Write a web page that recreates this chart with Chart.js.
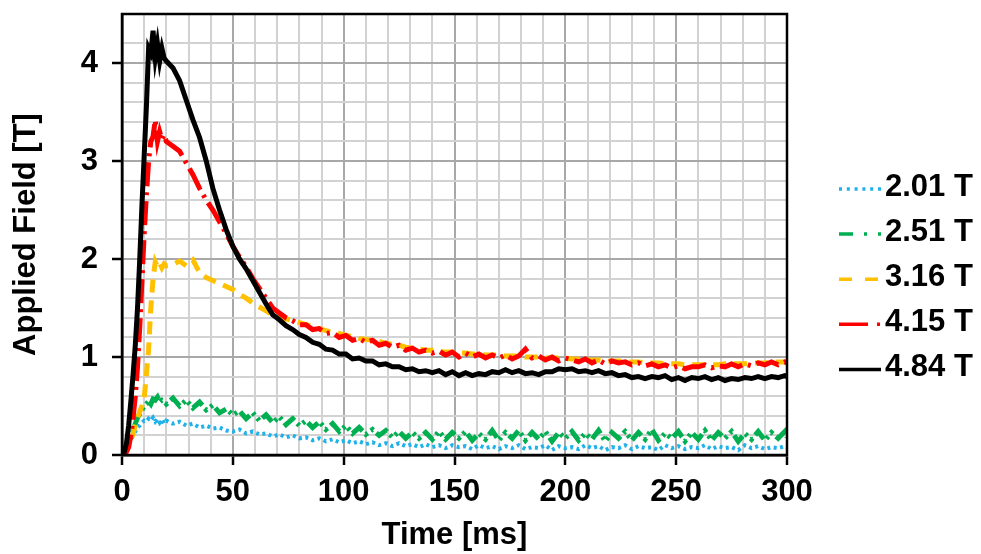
<!DOCTYPE html>
<html>
<head>
<meta charset="utf-8">
<script src="https://cdn.jsdelivr.net/npm/chart.js@4.4.1/dist/chart.umd.min.js"></script>
<style>
  html, body { margin: 0; padding: 0; background: #ffffff; }
  #wrap { width: 981px; height: 554px; }
</style>
</head>
<body>
<div id="wrap"><canvas id="c" width="981" height="554"></canvas></div>
<script>
// ---- Data ----
const seriesLabels = ['2.01 T', '2.51 T', '3.16 T', '4.15 T', '4.84 T'];

const timeMs = [0,1,2,3,4,5,6,7,8,9,10,11,12,13,14,15,16,17,18,19,20,
  23,26,29,32,35,38,41,44,47,50,
  53,56,59,62,65,68,71,74,77,80,
  83,86,89,92,95,98,101,104,107,110,
  113,116,119,122,125,128,131,134,137,140,
  143,146,149,152,155,158,161,164,167,170,
  173,176,179,182,185,188,191,194,197,200,
  203,206,209,212,215,218,221,224,227,230,
  233,236,239,242,245,248,251,254,257,260,
  263,266,269,272,275,278,281,284,287,290,
  293,296,299,300];

const field201 = [0,0.02,0.05,0.1,0.15,0.2,0.24,0.28,0.3,0.33,0.35,0.34,0.37,0.35,0.38,0.34,0.37,0.33,0.36,0.32,0.35,
  0.32,0.34,0.3,0.32,0.28,0.3,0.27,0.28,0.25,0.24,
  0.26,0.22,0.24,0.21,0.22,0.19,0.21,0.18,0.2,0.17,
  0.18,0.15,0.17,0.14,0.16,0.13,0.15,0.12,0.14,0.11,
  0.13,0.1,0.12,0.09,0.12,0.09,0.11,0.08,0.11,0.08,
  0.1,0.07,0.1,0.08,0.09,0.06,0.1,0.07,0.09,0.06,
  0.09,0.07,0.1,0.06,0.08,0.07,0.1,0.05,0.09,0.07,
  0.08,0.06,0.1,0.07,0.09,0.05,0.08,0.07,0.1,0.06,
  0.09,0.07,0.08,0.05,0.1,0.07,0.09,0.06,0.08,0.07,
  0.1,0.06,0.09,0.07,0.08,0.05,0.1,0.07,0.09,0.06,
  0.08,0.07,0.09,0.08];

const field251 = [0,0.02,0.06,0.12,0.18,0.25,0.32,0.38,0.42,0.46,0.5,0.52,0.55,0.52,0.57,0.56,0.59,0.54,0.56,0.55,0.52,
  0.58,0.5,0.56,0.48,0.54,0.46,0.51,0.43,0.47,0.41,
  0.45,0.37,0.43,0.35,0.41,0.33,0.39,0.31,0.37,0.3,
  0.35,0.28,0.34,0.26,0.32,0.24,0.3,0.22,0.28,0.21,
  0.26,0.2,0.25,0.18,0.24,0.17,0.23,0.17,0.23,0.16,
  0.24,0.16,0.23,0.17,0.24,0.15,0.22,0.16,0.25,0.15,
  0.23,0.17,0.25,0.15,0.23,0.16,0.24,0.14,0.23,0.17,
  0.24,0.15,0.22,0.16,0.25,0.14,0.23,0.17,0.24,0.15,
  0.23,0.16,0.26,0.15,0.22,0.17,0.24,0.14,0.23,0.16,
  0.25,0.15,0.23,0.17,0.24,0.14,0.22,0.16,0.24,0.15,
  0.23,0.17,0.24,0.18];

const field316 = [0,0.01,0.04,0.09,0.15,0.22,0.3,0.38,0.44,0.5,0.58,0.82,1.08,1.5,1.8,1.97,1.92,1.96,1.91,1.95,1.93,
  1.94,1.98,1.93,1.99,1.86,1.81,1.78,1.75,1.72,1.69,
  1.64,1.6,1.55,1.51,1.47,1.43,1.41,1.39,1.37,1.35,
  1.33,1.31,1.29,1.27,1.25,1.24,1.22,1.21,1.19,1.18,
  1.17,1.16,1.14,1.13,1.12,1.1,1.09,1.08,1.07,1.07,
  1.06,1.05,1.05,1.04,1.04,1.03,1.03,1.02,1.02,1.02,
  1.01,1.01,1.01,1.0,1.0,1.0,0.99,0.99,0.99,0.99,
  0.98,0.98,0.97,0.97,0.97,0.96,0.96,0.96,0.95,0.95,
  0.95,0.94,0.94,0.94,0.93,0.93,0.93,0.92,0.92,0.92,
  0.92,0.92,0.92,0.93,0.93,0.93,0.93,0.94,0.94,0.94,
  0.95,0.95,0.95,0.95];

const field415 = [0,0,0.03,0.08,0.2,0.38,0.6,0.9,1.3,1.78,2.25,2.65,3.0,3.2,3.25,3.42,3.2,3.3,3.22,3.27,3.2,
  3.15,3.1,2.98,2.86,2.72,2.6,2.5,2.38,2.26,2.13,
  2.02,1.92,1.8,1.7,1.6,1.5,1.45,1.4,1.37,1.33,
  1.33,1.28,1.29,1.24,1.25,1.2,1.22,1.17,1.19,1.15,
  1.17,1.12,1.14,1.1,1.12,1.07,1.09,1.05,1.07,1.04,
  1.06,1.02,1.05,1.0,1.04,1.0,1.03,0.99,1.02,0.99,
  1.02,0.98,1.01,1.08,0.99,1.01,0.97,1.0,0.96,0.99,
  0.97,0.95,0.98,0.94,0.97,0.93,0.96,0.94,0.95,0.92,
  0.94,0.91,0.93,0.9,0.92,0.89,0.91,0.88,0.9,0.9,
  0.92,0.89,0.91,0.9,0.93,0.9,0.93,0.91,0.94,0.92,
  0.95,0.92,0.95,0.94];

const field484 = [0,0.03,0.12,0.3,0.55,0.82,1.12,1.5,2.0,2.55,3.05,3.55,4.15,4.1,4.33,4.05,4.2,4.02,4.15,4.05,4.02,
  3.95,3.82,3.62,3.42,3.24,3.0,2.72,2.5,2.3,2.13,
  2.0,1.9,1.78,1.66,1.54,1.43,1.38,1.32,1.28,1.23,
  1.2,1.15,1.13,1.08,1.07,1.03,1.03,0.98,0.99,0.96,
  0.96,0.92,0.93,0.9,0.9,0.87,0.88,0.85,0.86,0.84,
  0.86,0.82,0.85,0.81,0.84,0.81,0.83,0.82,0.85,0.84,
  0.87,0.84,0.86,0.83,0.84,0.82,0.85,0.85,0.88,0.87,
  0.88,0.85,0.86,0.84,0.86,0.83,0.84,0.81,0.82,0.79,
  0.8,0.78,0.8,0.79,0.81,0.77,0.79,0.76,0.79,0.78,
  0.8,0.77,0.79,0.76,0.78,0.77,0.79,0.78,0.8,0.78,
  0.8,0.79,0.81,0.8];

const xTickLabels = [0, 50, 100, 150, 200, 250, 300];
const yTickLabels = [0, 1, 2, 3, 4];

// ---- Build chart ----
const FONT = '"Liberation Sans", Arial, Helvetica, sans-serif';
const toPts = vals => vals.map((v, i) => ({ x: timeMs[i], y: v }));

const seriesValues = [field201, field251, field316, field415, field484];
const colors = ['#1fb1ea', '#00b050', '#ffc000', '#ff0000', '#000000'];
const dashes = [[3, 3.5], [14, 4, 3, 4, 3, 4], [13, 8], [24, 6, 3, 6], []];
const legendDashes = [[3, 4.8], [14, 11, 3, 11, 3, 11], [13, 13], [29, 9, 3, 9], []];
const widths = [4, 5, 5, 5, 5];

const datasets = seriesLabels.map((lab, i) => ({
  label: lab,
  data: toPts(seriesValues[i]),
  borderColor: colors[i],
  backgroundColor: colors[i],
  borderWidth: widths[i],
  borderDash: dashes[i],
  legendDash: legendDashes[i],
  legendWidth: 3.5,
  pointRadius: 0,
  tension: 0,
  fill: false,
  order: seriesLabels.length - i
}));

const isMult = (v, m) => Math.abs(v / m - Math.round(v / m)) < 1e-6;

const frame = {
  id: 'frame',
  afterDatasetsDraw(chart) {
    const a = chart.chartArea, ctx = chart.ctx;
    ctx.save();
    ctx.strokeStyle = '#000';
    ctx.lineWidth = 2.5;
    ctx.setLineDash([]);
    ctx.strokeRect(a.left, a.top, a.right - a.left, a.bottom - a.top);
    ctx.restore();
  }
};

const legendPlugin = {
  id: 'sideLegend',
  afterDraw(chart) {
    const ctx = chart.ctx, a = chart.chartArea;
    ctx.save();
    chart.data.datasets.forEach((ds, i) => {
      const y = 187 + i * 45.1;
      const x0 = a.right + 52;
      ctx.beginPath();
      ctx.setLineDash(ds.legendDash || []);
      ctx.lineWidth = ds.legendWidth;
      ctx.strokeStyle = ds.borderColor;
      ctx.moveTo(x0, y + 2);
      ctx.lineTo(x0 + 42, y + 2);
      ctx.stroke();
      ctx.setLineDash([]);
      ctx.fillStyle = '#000';
      ctx.font = 'bold 31px ' + FONT;
      ctx.textBaseline = 'middle';
      ctx.textAlign = 'left';
      ctx.fillText(ds.label, x0 + 46, y);
    });
    ctx.restore();
  }
};

new Chart(document.getElementById('c'), {
  type: 'line',
  data: { datasets },
  plugins: [frame, legendPlugin],
  options: {
    responsive: false,
    devicePixelRatio: 1,
    animation: false,
    layout: { padding: { top: 14, right: 194, left: 0, bottom: 0 } },
    plugins: { legend: { display: false }, tooltip: { enabled: false } },
    scales: {
      x: {
        type: 'linear',
        min: 0, max: 300,
        afterFit: s => { s.height = 99; s.paddingLeft = 0; s.paddingRight = 0; },
        ticks: {
          stepSize: 10,
          autoSkip: false,
          maxRotation: 0,
          padding: 9,
          color: '#000',
          font: { family: FONT, size: 31, weight: 'bold' },
          callback: v => (xTickLabels.some(t => Math.abs(v - t) < 1e-6) ? String(v) : '')
        },
        grid: {
          color: c => (c.tick && isMult(c.tick.value, 50)) ? '#a8a8a8' : '#d2d2d2',
          lineWidth: 2,
          drawTicks: true,
          tickLength: 10,
          tickWidth: 2.5,
          tickColor: c => (c.tick && isMult(c.tick.value, 50)) ? '#000' : 'rgba(0,0,0,0)'
        },
        border: { display: true, color: '#000', width: 2.5 },
        title: {
          display: true,
          text: 'Time [ms]',
          color: '#000',
          font: { family: FONT, size: 31, weight: 'bold' },
          padding: { top: 0, bottom: 0 }
        }
      },
      y: {
        type: 'linear',
        min: 0, max: 4.5,
        afterFit: s => { s.width = 122; s.paddingTop = 0; s.paddingBottom = 0; },
        ticks: {
          stepSize: 0.2,
          autoSkip: false,
          padding: 14,
          color: '#000',
          font: { family: FONT, size: 31, weight: 'bold' },
          callback: v => {
            const r = Math.round(v);
            return (Math.abs(v - r) < 1e-6 && yTickLabels.includes(r)) ? String(r) : '';
          }
        },
        grid: {
          color: c => (c.tick && isMult(c.tick.value, 1)) ? '#a8a8a8' : '#d2d2d2',
          lineWidth: 2,
          drawTicks: true,
          tickLength: 10,
          tickWidth: 2.5,
          tickColor: c => (c.tick && isMult(c.tick.value, 1)) ? '#000' : 'rgba(0,0,0,0)'
        },
        border: { display: true, color: '#000', width: 2.5 },
        title: {
          display: true,
          text: 'Applied Field [T]',
          color: '#000',
          font: { family: FONT, size: 31, weight: 'bold' },
          padding: { top: 8, bottom: 0 }
        }
      }
    }
  }
});
</script>
</body>
</html>
